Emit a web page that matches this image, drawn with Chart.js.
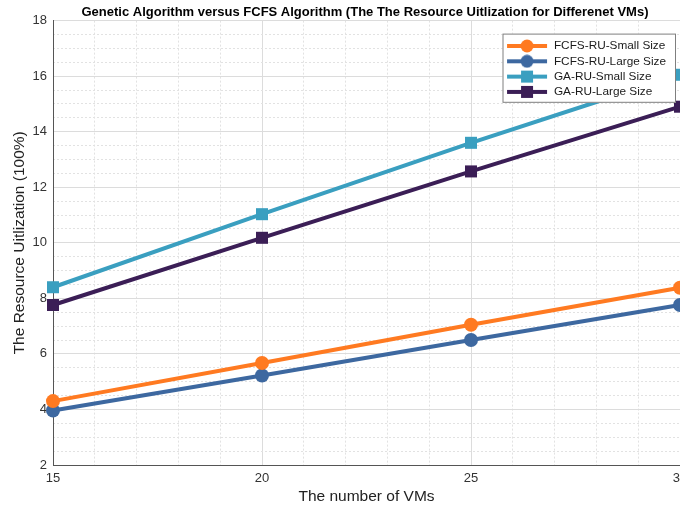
<!DOCTYPE html>
<html>
<head>
<meta charset="utf-8">
<script src="https://cdn.jsdelivr.net/npm/chart.js@4/dist/chart.umd.min.js"></script>
<style>
  html, body { margin: 0; padding: 0; background: #fff; overflow: hidden; }
  #wrap { width: 730px; height: 510px; }
</style>
</head>
<body>
<div id="wrap"><canvas id="ruChart"></canvas></div>
<script>
// number of VMs
const vms = [15, 20, 25, 30];

// resource utilization
const fcfsSmall = [4.3, 5.67, 7.05, 8.38];
const fcfsLarge = [3.96, 5.22, 6.5, 7.76];
const gaSmall = [8.4, 11.03, 13.6, 16.05];
const gaLarge = [7.76, 10.18, 12.57, 14.9];

const xTicks = [15, 20, 25, 30];
const yTicks = [2, 4, 6, 8, 10, 12, 14, 16, 18];

const FONT = 'Liberation Sans, Arial, Helvetica, sans-serif';

function pts(ys) {
  return ys.map((v, i) => ({ x: vms[i], y: v }));
}

// little line+marker picture for legend entries
function legendIcon(color, shape) {
  const c = document.createElement('canvas');
  c.width = 42; c.height = 14;
  const g = c.getContext('2d');
  g.strokeStyle = color;
  g.lineWidth = 4;
  g.beginPath(); g.moveTo(1, 7); g.lineTo(41, 7); g.stroke();
  g.fillStyle = color;
  if (shape === 'circle') {
    g.beginPath(); g.arc(21, 7, 6.5, 0, Math.PI * 2); g.fill();
  } else {
    g.fillRect(15, 1, 12, 12);
  }
  return c;
}

const series = [
  { label: 'FCFS-RU-Small Size', data: fcfsSmall, color: '#ff7a21', shape: 'circle' },
  { label: 'FCFS-RU-Large Size', data: fcfsLarge, color: '#3d68a0', shape: 'circle' },
  { label: 'GA-RU-Small Size', data: gaSmall, color: '#3a9fc0', shape: 'rect' },
  { label: 'GA-RU-Large Size', data: gaLarge, color: '#3b1e56', shape: 'rect' }
];

const datasets = series.map(s => ({
  label: s.label,
  data: pts(s.data),
  borderColor: s.color,
  backgroundColor: s.color,
  borderWidth: 4,
  pointStyle: s.shape,
  pointRadius: s.shape === 'circle' ? 7 : 8.5,
  pointBorderWidth: 0,
  fill: false,
  tension: 0,
  clip: false
}));

const icons = series.map(s => legendIcon(s.color, s.shape));

// legend sits inside the plot, top right, over the lines
const legendBox = {
  id: 'legendBox',
  afterLayout(chart) {
    const lg = chart.legend;
    const a = chart.chartArea;
    const h = lg.columnSizes && lg.columnSizes[0] ? lg.columnSizes[0].height : 60;
    lg.left = a.right - lg.width - 4;
    lg.right = lg.left + lg.width;
    lg.top = a.top + 16;
    lg.height = h + 8;
    lg.bottom = lg.top + lg.height;
  },
  afterDatasetsDraw(chart) {
    const lg = chart.legend;
    const ctx = chart.ctx;
    const top = lg.top - 3;
    ctx.save();
    ctx.fillStyle = '#fff';
    ctx.strokeStyle = '#7f7f7f';
    ctx.lineWidth = 1;
    ctx.fillRect(lg.left, top, lg.width, lg.height);
    ctx.strokeRect(lg.left + 0.5, top + 0.5, lg.width - 1, lg.height - 1);
    ctx.restore();
    lg.draw();
  }
};

const config = {
  type: 'line',
  data: { datasets: datasets },
  options: {
    responsive: true,
    maintainAspectRatio: false,
    animation: false,
    layout: { padding: { left: 0, right: 0, top: 0, bottom: 4 } },
    plugins: {
      title: {
        display: true,
        text: 'Genetic Algorithm versus FCFS Algorithm (The The Resource Uitlization for Differenet VMs)',
        font: { family: FONT, size: 13, weight: 'bold' },
        color: '#000',
        padding: { top: 5, bottom: 0 }
      },
      legend: {
        position: 'chartArea',
        align: 'start',
        labels: {
          font: { family: FONT, size: 11.8 },
          color: '#1a1a1a',
          usePointStyle: true,
          pointStyleWidth: 42,
          boxHeight: 11,
          padding: 3.5,
          generateLabels(chart) {
            const items = Chart.defaults.plugins.legend.labels.generateLabels(chart);
            items.forEach((it, i) => { it.pointStyle = icons[i]; });
            return items;
          }
        }
      },
      tooltip: { enabled: false }
    },
    scales: {
      x: {
        type: 'linear',
        min: 15,
        max: 30,
        afterBuildTicks(s) { s.ticks = xTicks.map(v => ({ value: v })); },
        ticks: { font: { family: FONT, size: 13 }, color: '#333', padding: 6 },
        grid: { color: '#dcdcdc', drawTicks: false },
        border: { display: true, color: '#555', width: 1 },
        title: {
          display: true,
          text: 'The number of VMs',
          font: { family: FONT, size: 15.5 },
          color: '#222',
          padding: { top: 1, bottom: 0 }
        },
        afterFit(s) { s.height = 41; }
      },
      x2: {
        type: 'linear',
        position: 'bottom',
        min: 15,
        max: 30,
        ticks: { display: false, stepSize: 1 },
        grid: {
          drawTicks: false,
          color: ctx => (ctx.tick && ctx.tick.value % 5 === 0) ? 'rgba(0,0,0,0)' : '#e2e2e2'
        },
        border: { display: false, dash: [2, 2] },
        afterFit(s) { s.height = 0; }
      },
      y: {
        min: 2,
        max: 18,
        afterBuildTicks(s) { s.ticks = yTicks.map(v => ({ value: v })); },
        ticks: { font: { family: FONT, size: 13 }, color: '#333', padding: 6 },
        grid: { color: '#dcdcdc', drawTicks: false },
        border: { display: true, color: '#555', width: 1 },
        title: {
          display: true,
          text: 'The Resource Uitlization (100%)',
          font: { family: FONT, size: 15.5 },
          color: '#222',
          padding: { top: 10, bottom: 0 }
        },
        afterFit(s) { s.width = 53; }
      },
      y2: {
        position: 'right',
        min: 2,
        max: 18,
        ticks: { display: false, stepSize: 0.5 },
        grid: {
          drawTicks: false,
          color: ctx => (ctx.tick && ctx.tick.value % 2 === 0) ? 'rgba(0,0,0,0)' : '#e2e2e2'
        },
        border: { display: false, dash: [2, 2] },
        afterFit(s) { s.width = 50; }
      }
    }
  },
  plugins: [legendBox]
};

const ruChart = new Chart(document.getElementById('ruChart'), config);
</script>
</body>
</html>
